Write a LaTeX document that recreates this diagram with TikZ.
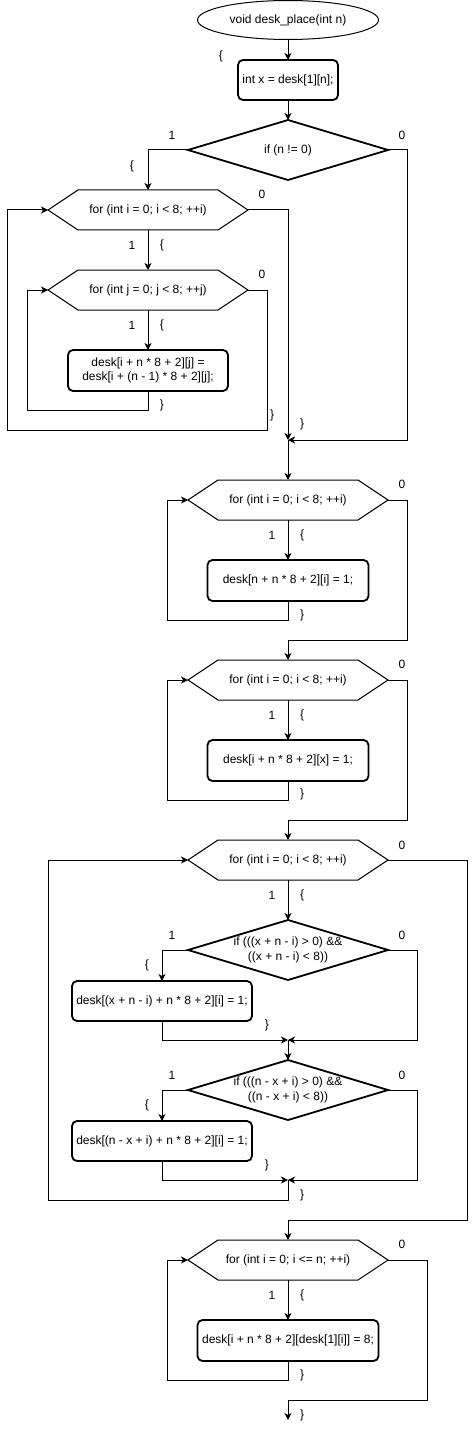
\documentclass[tikz,border=0pt]{standalone}
\usepackage{fontspec}
\setmainfont{Liberation Sans}
\usetikzlibrary{shapes.geometric,arrows.meta}
\newcommand\hexdraw[1]{\draw[line width=1pt] (#1.west) -- ([xshift=30pt]#1.north west) -- ([xshift=-30pt]#1.north east) -- (#1.east) -- ([xshift=-30pt]#1.south east) -- ([xshift=30pt]#1.south west) -- cycle;}
\newcommand\diadraw[1]{\draw[line width=1.8pt, line join=miter] (#1.west) -- (#1.north) -- (#1.east) -- (#1.south) -- cycle;}
\begin{document}
\begin{tikzpicture}[x=1pt,y=-1pt,
  font=\fontsize{12pt}{14.5pt}\selectfont,
  every node/.style={inner sep=0pt, outer sep=0pt},
  startnode/.style={ellipse, draw, line width=1pt, minimum width=181pt, minimum height=39pt},
  procbox/.style={rectangle, draw, line width=1.8pt, rounded corners=5pt, minimum height=40pt, align=center},
  hexnode/.style={rectangle, minimum width=200pt, minimum height=40pt},
  dianode/.style={rectangle, minimum width=200pt, minimum height=60pt, align=center},
  lbl/.style={anchor=center},
  conn/.style={line width=1pt},
  arr/.style={line width=1pt, -{Stealth[length=7pt,width=7pt,inset=2pt]}}
]
\useasboundingbox (0,0) rectangle (476,1431);

% nodes
\node[startnode] (start) at (288,20) {void desk\_place(int n)};
\node[procbox, minimum width=100pt] (b0) at (288,80) {int x = desk[1][n];};
\node[dianode] (d0) at (288,150) {if (n != 0)};
\diadraw{d0}
\node[hexnode] (f1) at (148,210) {for (int i = 0; i < 8; ++i)};
\hexdraw{f1}
\node[hexnode] (f2) at (148,290) {for (int j = 0; j < 8; ++j)};
\hexdraw{f2}
\node[procbox, minimum width=160pt, minimum height=41pt] (b1) at (148,370.5) {desk[i + n * 8 + 2][j] =\\desk[i + (n - 1) * 8 + 2][j];};
\coordinate (m1) at (288,440);

\node[hexnode] (f3) at (288,500) {for (int i = 0; i < 8; ++i)};
\hexdraw{f3}
\node[procbox, minimum width=161pt, minimum height=41pt] (b3) at (288,580.5) {desk[n + n * 8 + 2][i] = 1;};
\node[hexnode] (f4) at (288,680) {for (int i = 0; i < 8; ++i)};
\hexdraw{f4}
\node[procbox, minimum width=161pt, minimum height=41pt] (b4) at (288,760.5) {desk[i + n * 8 + 2][x] = 1;};

\node[hexnode] (f5) at (288,860) {for (int i = 0; i < 8; ++i)};
\hexdraw{f5}
\node[dianode] (d2) at (288,950) {if (((x + n - i) > 0) \&\&\\((x + n - i) < 8))};
\diadraw{d2}
\node[procbox, minimum width=180pt] (b5) at (162,1001) {desk[(x + n - i) + n * 8 + 2][i] = 1;};
\coordinate (m2) at (288,1040);
\node[dianode] (d3) at (288,1090) {if (((n - x + i) > 0) \&\&\\((n - x + i) < 8))};
\diadraw{d3}
\node[procbox, minimum width=180pt] (b6) at (162,1141) {desk[(n - x + i) + n * 8 + 2][i] = 1;};
\coordinate (m3) at (288,1180);

\node[hexnode] (f6) at (288,1260) {for (int i = 0; i <= n; ++i)};
\hexdraw{f6}
\node[procbox, minimum width=181pt, minimum height=41pt] (b7) at (288,1340.5) {desk[i + n * 8 + 2][desk[1][i]] = 8;};
\coordinate (endp) at (288,1420);

% connectors
\draw[arr] (start.south) -- (b0.north);
\draw[arr] (b0.south) -- (d0.north);
\draw[arr] (d0.west) -| (f1.north);
\draw[arr] (d0.east) -- (407,150) -- (407,440) -- (m1);
\draw[arr] (f1.east) -| (m1);
\draw[arr] (m1) -- (f3.north);
\draw[arr] (f1.south) -- (f2.north);
\draw[arr] (f2.south) -- (b1.north);
\draw[arr] (b1.south) -- (148,410) -- (27,410) -- (27,290) -- (f2.west);
\draw[arr] (f2.east) -- (267,290) -- (267,430) -- (7,430) -- (7,210) -- (f1.west);

\draw[arr] (f3.south) -- (b3.north);
\draw[arr] (b3.south) -- (288,620) -- (167,620) -- (167,500) -- (f3.west);
\draw[arr] (f3.east) -- (407,500) -- (407,640) -- (288,640) -- (f4.north);
\draw[arr] (f4.south) -- (b4.north);
\draw[arr] (b4.south) -- (288,800) -- (167,800) -- (167,680) -- (f4.west);
\draw[arr] (f4.east) -- (407,680) -- (407,820) -- (288,820) -- (f5.north);

\draw[arr] (f5.south) -- (d2.north);
\draw[arr] (d2.west) -| (b5.north);
\draw[arr] (b5.south) |- (m2);
\draw[arr] (d2.east) -- (417,950) -- (417,1040) -- (m2);
\draw[arr] (m2) -- (d3.north);
\draw[arr] (d3.west) -| (b6.north);
\draw[arr] (b6.south) |- (m3);
\draw[arr] (d3.east) -- (417,1090) -- (417,1180) -- (m3);
\draw[arr] (m3) -- (288,1200) -- (48,1200) -- (48,860) -- (f5.west);
\draw[arr] (f5.east) -- (467,860) -- (467,1220) -- (288,1220) -- (f6.north);

\draw[arr] (f6.south) -- (b7.north);
\draw[arr] (b7.south) -- (288,1380) -- (167,1380) -- (167,1260) -- (f6.west);
\draw[arr] (f6.east) -- (427,1260) -- (427,1400) -- (288,1400) -- (endp);

% labels
\node[lbl] (l1) at (221,56) {\{};
\node[lbl] (l2) at (172,135) {1};
\node[lbl] (l3) at (402,135) {0};
\node[lbl] (l4) at (132,166) {\{};
\node[lbl] (l5) at (262,194) {0};
\node[lbl] (l6) at (132,245) {1};
\node[lbl] (l7) at (162,245) {\{};
\node[lbl] (l8) at (262,274) {0};
\node[lbl] (l9) at (132,325) {1};
\node[lbl] (l10) at (162,325) {\{};
\node[lbl] (l11) at (162,405) {\}};
\node[lbl] (l12) at (272,415) {\}};
\node[lbl] (l13) at (302,424) {\}};
\node[lbl] (l14) at (402,484) {0};
\node[lbl] (l15) at (272,535) {1};
\node[lbl] (l16) at (302,535) {\{};
\node[lbl] (l17) at (302,615) {\}};
\node[lbl] (l18) at (402,664) {0};
\node[lbl] (l19) at (272,715) {1};
\node[lbl] (l20) at (302,715) {\{};
\node[lbl] (l21) at (302,794) {\}};
\node[lbl] (l22) at (402,845) {0};
\node[lbl] (l23) at (272,895) {1};
\node[lbl] (l24) at (302,895) {\{};
\node[lbl] (l25) at (172,935) {1};
\node[lbl] (l26) at (402,935) {0};
\node[lbl] (l27) at (147,965) {\{};
\node[lbl] (l28) at (267,1025) {\}};
\node[lbl] (l29) at (172,1075) {1};
\node[lbl] (l30) at (402,1075) {0};
\node[lbl] (l31) at (147,1105) {\{};
\node[lbl] (l32) at (267,1165) {\}};
\node[lbl] (l33) at (302,1195) {\}};
\node[lbl] (l34) at (402,1244) {0};
\node[lbl] (l35) at (272,1295) {1};
\node[lbl] (l36) at (302,1295) {\{};
\node[lbl] (l37) at (302,1375) {\}};
\node[lbl] (l38) at (302,1415) {\}};
\end{tikzpicture}
\end{document}
